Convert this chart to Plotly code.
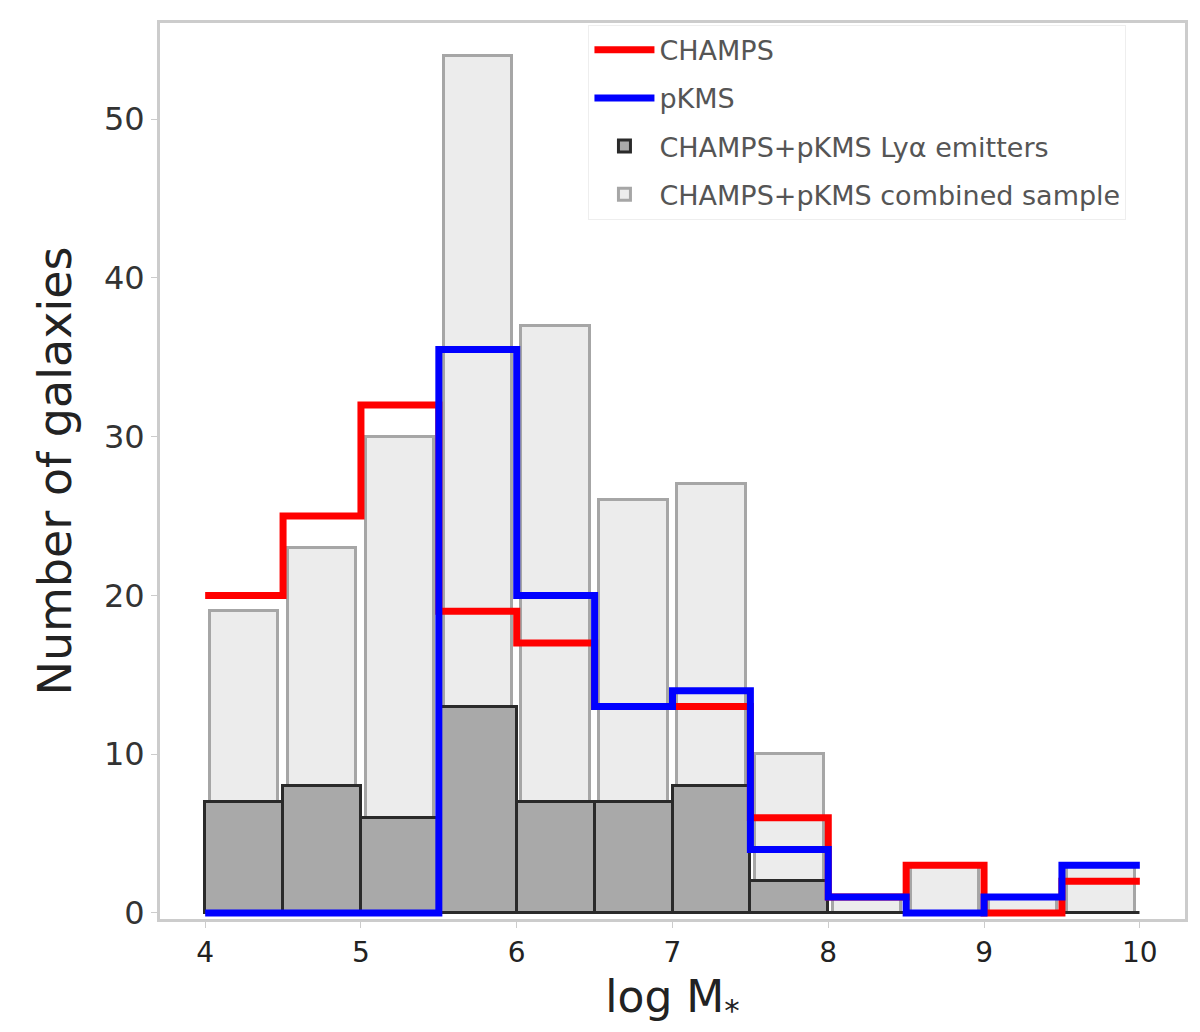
import plotly.graph_objects as go

bin_edges = [4.0, 4.5, 5.0, 5.5, 6.0, 6.5, 7.0, 7.5, 8.0, 8.5, 9.0, 9.5, 10.0]
combined = [19, 23, 30, 54, 37, 26, 27, 10, 1, 3, 1, 3]
lya = [7, 8, 6, 13, 7, 7, 8, 2, 0, 0, 0, 0]
champs = [20, 25, 32, 19, 17, 13, 13, 6, 1, 3, 0, 2]
pkms = [0, 0, 0, 35.5, 20, 13, 14, 4, 1, 0, 1, 3]

labels = ["CHAMPS", "pKMS", "CHAMPS+pKMS Lyα emitters", "CHAMPS+pKMS combined sample"]

centers = [(a + b) / 2 for a, b in zip(bin_edges[:-1], bin_edges[1:])]

fig = go.Figure()
fig.add_trace(go.Bar(x=centers, y=combined, width=0.44, name=labels[3],
                     marker=dict(color="#ececec", line=dict(color="#a6a6a6", width=3)),
                     legendrank=4, legendgroup="d"))
fig.add_trace(go.Bar(x=centers, y=lya, width=0.5, name=labels[2],
                     marker=dict(color="#a9a9a9", line=dict(color="#2a2a2a", width=3)),
                     legendrank=3, legendgroup="c"))
fig.add_trace(go.Scatter(x=bin_edges, y=champs + [champs[-1]], mode="lines", line_shape="hv",
                         name=labels[0], line=dict(color="#ff0000", width=7),
                         legendrank=1, legendgroup="a"))
fig.add_trace(go.Scatter(x=bin_edges, y=pkms + [pkms[-1]], mode="lines", line_shape="hv",
                         name=labels[1], line=dict(color="#0000ff", width=7),
                         legendrank=2, legendgroup="b"))

fig.update_layout(
    width=1200, height=1032,
    margin=dict(l=152, r=23, t=15, b=121),
    plot_bgcolor="white", paper_bgcolor="white",
    barmode="overlay", bargap=0,
    font=dict(family="DejaVu Sans", color="#222222"),
    showlegend=True,
    legend=dict(x=0.418, y=0.998, xanchor="left", yanchor="top",
                bgcolor="rgba(255,255,255,0.9)", bordercolor="#eeeeee", borderwidth=1,
                font=dict(size=27, color="#555555"), traceorder="grouped",
                tracegroupgap=10, itemwidth=60),
    xaxis=dict(range=[3.71, 10.29], tickvals=[4, 5, 6, 7, 8, 9, 10],
               ticks="outside", ticklen=6, tickcolor="#cccccc",
               showgrid=False, zeroline=False, showline=True, linecolor="#cccccc",
               linewidth=3, mirror=True, tickfont=dict(size=28, color="#222222"),
               title=dict(text="log M<sub>*</sub>", font=dict(size=44), standoff=14)),
    yaxis=dict(range=[-0.38, 56.06], tickvals=[0, 10, 20, 30, 40, 50],
               ticks="outside", ticklen=6, tickcolor="#cccccc",
               showgrid=False, zeroline=False, showline=True, linecolor="#cccccc",
               linewidth=3, mirror=True, tickfont=dict(size=32, color="#333333"),
               title=dict(text="Number of galaxies", font=dict(size=46), standoff=18)),
)

fig.write_html("out.html")
